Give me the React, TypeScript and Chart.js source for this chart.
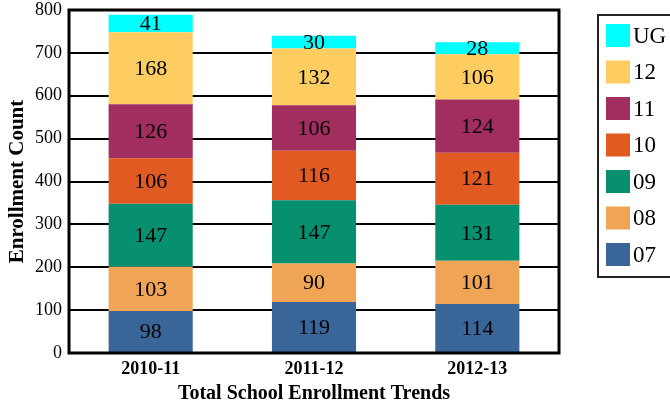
import React, { useEffect, useRef } from "react";
import { Chart, registerables } from "chart.js";

Chart.register(...registerables);

const categories = ["2010-11", "2011-12", "2012-13"];
const seriesNames = ["07", "08", "09", "10", "11", "12", "UG"];
const grade07 = [98, 119, 114];
const grade08 = [103, 90, 101];
const grade09 = [147, 147, 131];
const grade10 = [106, 116, 121];
const grade11 = [126, 106, 124];
const grade12 = [168, 132, 106];
const gradeUG = [41, 30, 28];
const seriesColors = ["#3A6598", "#F0A556", "#06906F", "#E05A22", "#A22E60", "#FECD62", "#00FFFF"];
const yTicks = { min: 0, max: 800, step: 100 };

const FONT = "'Liberation Serif', 'Times New Roman', serif";

const valueLabels = {
  id: "valueLabels",
  afterDatasetsDraw(chart: any) {
    const { ctx } = chart;
    ctx.save();
    ctx.font = `22px ${FONT}`;
    ctx.fillStyle = "#000";
    ctx.textAlign = "center";
    ctx.textBaseline = "middle";
    chart.data.datasets.forEach((ds: any, di: number) => {
      const meta = chart.getDatasetMeta(di);
      meta.data.forEach((bar: any, i: number) => {
        const v = ds.data[i];
        const cy = (bar.y + bar.base) / 2;
        ctx.fillText(String(v), bar.x, cy + 1);
      });
    });
    ctx.restore();
  },
};

const frameAndLegend = {
  id: "frameAndLegend",
  afterDraw(chart: any) {
    const { ctx, chartArea } = chart;
    ctx.save();
    // plot frame
    ctx.strokeStyle = "#000";
    ctx.lineWidth = 3;
    ctx.strokeRect(chartArea.left, chartArea.top, chartArea.right - chartArea.left, chartArea.bottom - chartArea.top);
    // legend
    const lx = chartArea.right + 39;
    const ly = 15;
    ctx.lineWidth = 2;
    ctx.strokeStyle = "#222";
    ctx.strokeRect(lx, ly, 90, 262);
    const n = chart.data.datasets.length;
    ctx.font = `23px ${FONT}`;
    ctx.textAlign = "left";
    ctx.textBaseline = "middle";
    for (let k = 0; k < n; k++) {
      const di = n - 1 - k;
      const ds = chart.data.datasets[di];
      const by = ly + 9 + k * 36.5;
      ctx.fillStyle = ds.backgroundColor;
      ctx.fillRect(lx + 8, by, 24, 23);
      ctx.fillStyle = "#000";
      ctx.fillText(ds.label, lx + 35, by + 12.5);
    }
    ctx.restore();
  },
};

export default function App() {
  const ref = useRef<HTMLCanvasElement | null>(null);
  useEffect(() => {
    document.body.style.margin = "0";
    const values = [grade07, grade08, grade09, grade10, grade11, grade12, gradeUG];
    const chart = new Chart(ref.current as HTMLCanvasElement, {
      type: "bar",
      data: {
        labels: categories,
        datasets: seriesNames.map((name, i) => ({
          label: name,
          data: values[i],
          backgroundColor: seriesColors[i],
          borderWidth: 0,
          categoryPercentage: 1,
          barPercentage: 0.515,
        })),
      },
      options: {
        responsive: false,
        animation: false,
        layout: { padding: { left: 0, top: 10, right: 111, bottom: 0 } },
        plugins: {
          legend: { display: false },
          tooltip: { enabled: false },
        },
        scales: {
          x: {
            stacked: true,
            grid: { display: false, drawTicks: false },
            border: { display: false },
            ticks: {
              color: "#000",
              padding: 6,
              font: { family: FONT, size: 18, weight: "bold" },
            },
            title: {
              display: true,
              text: "Total School Enrollment Trends",
              color: "#000",
              padding: { top: 0, bottom: 0 },
              font: { family: FONT, size: 20, weight: "bold" },
            },
            afterFit(scale: any) {
              scale.height = 53;
              scale.paddingLeft = 0;
              scale.paddingRight = 0;
            },
          },
          y: {
            stacked: true,
            min: yTicks.min,
            max: yTicks.max,
            grid: { color: "#000", lineWidth: 2, drawTicks: false },
            border: { display: false },
            ticks: {
              stepSize: yTicks.step,
              color: "#000",
              padding: 7,
              font: { family: FONT, size: 18 },
            },
            title: {
              display: true,
              text: "Enrollment Count",
              color: "#000",
              padding: { top: 5, bottom: 0 },
              font: { family: FONT, size: 21, weight: "bold" },
            },
            afterFit(scale: any) {
              scale.width = 69;
              scale.paddingTop = 0;
              scale.paddingBottom = 0;
            },
          },
        },
      },
      plugins: [valueLabels, frameAndLegend],
    });
    return () => chart.destroy();
  }, []);
  return (
    <div style={{ width: 670, height: 406 }}>
      <canvas ref={ref} width={670} height={406} />
    </div>
  );
}
